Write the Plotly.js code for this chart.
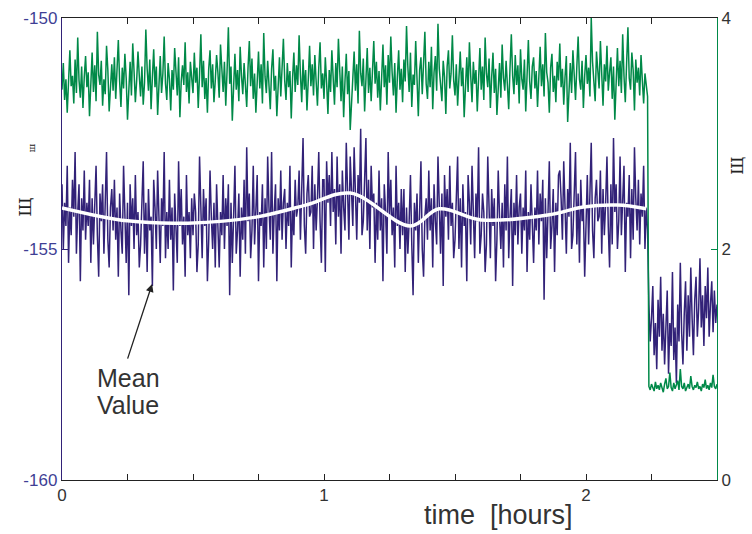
<!DOCTYPE html>
<html>
<head>
<meta charset="utf-8">
<script src="https://cdn.plot.ly/plotly-3.0.1.min.js"></script>
<style>html,body{margin:0;padding:0;background:#fff;}#chart{width:752px;height:534px;}</style>
</head>
<body>
<div id="chart"></div>
<script>
// sampling grid (hours)
const sampleStep = 0.005;

// signal level, left axis
const levelValues = [
 -153.6,-155.0,-154.0,-154.5,-153.2,-155.3,-154.1,-154.7,-153.5,-154.3,-152.9,-155.1,-154.2,-153.6,-155.7,-153.9,-154.6,-153.3,-154.8,-154.0,
 -154.5,-153.5,-155.3,-153.9,-154.9,-154.2,-153.2,-154.7,-155.6,-153.8,-154.4,-153.6,-155.1,-154.0,-152.9,-154.8,-155.4,-154.1,-153.7,-154.6,
 -153.5,-154.8,-154.1,-155.6,-153.8,-154.6,-155.1,-153.2,-154.3,-155.3,-154.0,-156.0,-153.6,-154.5,-153.9,-155.0,-153.4,-154.7,-154.2,-155.4,
 -154.9,-154.2,-153.1,-155.1,-154.0,-155.5,-153.7,-154.6,-154.3,-155.8,-153.5,-154.1,-155.0,-153.3,-154.7,-155.3,-153.9,-154.5,-152.9,-155.2,
 -154.2,-155.0,-153.5,-154.8,-154.1,-155.9,-153.8,-154.4,-155.3,-153.1,-154.5,-153.7,-154.9,-154.3,-155.6,-153.4,-154.7,-154.2,-155.2,-153.9,
 -154.7,-153.8,-154.2,-155.5,-154.9,-153.0,-154.1,-155.2,-153.7,-154.5,-153.9,-155.7,-154.8,-153.3,-154.3,-155.0,-154.0,-155.4,-153.6,-154.6,
 -155.4,-154.2,-154.7,-153.4,-155.0,-153.9,-154.5,-153.6,-156.0,-154.0,-155.3,-154.3,-153.2,-155.1,-154.6,-153.8,-155.6,-154.1,-154.8,-153.5,
 -155.1,-152.8,-154.4,-153.8,-155.2,-154.6,-153.2,-154.9,-154.0,-153.4,-155.7,-154.2,-154.5,-153.6,-155.4,-153.9,-155.0,-153.0,-154.1,-154.8,
 -152.9,-155.1,-154.2,-153.6,-155.7,-153.9,-154.6,-153.3,-154.8,-154.0,-153.7,-155.0,-154.0,-154.5,-153.2,-155.4,-154.1,-154.7,-153.5,-154.3,
 -154.1,-153.3,-154.8,-153.7,-152.6,-154.5,-155.1,-153.8,-153.4,-154.3,-154.2,-153.2,-155.0,-153.6,-154.6,-153.9,-152.9,-154.4,-155.3,-153.5,
 -153.5,-155.5,-153.1,-154.0,-153.4,-154.5,-152.9,-154.2,-153.7,-154.9,-153.0,-154.3,-153.6,-155.1,-153.3,-154.1,-154.6,-152.7,-153.8,-154.8,
 -153.0,-153.6,-154.5,-152.8,-154.2,-154.8,-153.4,-154.0,-152.4,-154.7,-154.4,-153.7,-152.6,-154.6,-153.5,-155.0,-153.2,-154.1,-153.8,-155.3,
 -154.0,-154.8,-153.3,-154.6,-153.9,-155.7,-153.6,-154.2,-155.1,-152.9,-154.3,-153.5,-154.7,-154.1,-155.4,-153.2,-154.5,-154.0,-155.0,-153.7,
 -154.7,-153.7,-155.5,-154.1,-155.1,-154.4,-153.4,-154.9,-156.0,-154.0,-154.6,-153.8,-155.3,-154.2,-153.1,-155.0,-155.6,-154.3,-153.9,-154.8,
 -153.3,-154.6,-153.9,-155.4,-153.6,-154.4,-154.9,-153.0,-154.1,-155.1,-153.8,-155.8,-153.4,-154.3,-153.7,-154.8,-153.2,-154.5,-154.0,-155.2,
 -154.8,-154.1,-153.0,-155.0,-153.9,-155.4,-153.6,-154.5,-154.2,-155.7,-153.4,-154.0,-154.9,-153.2,-154.6,-155.2,-153.8,-154.4,-152.8,-155.1,
 -154.7,-153.8,-154.2,-155.5,-154.9,-153.0,-154.1,-155.2,-153.7,-154.5,-153.9,-155.7,-154.8,-153.3,-154.3,-155.0,-154.0,-155.4,-153.6,-154.6,
 -153.0,-155.2,-154.3,-153.7,-155.8,-154.0,-154.7,-153.4,-154.9,-154.1,-153.8,-155.1,-154.1,-154.6,-153.3,-155.5,-154.2,-154.8,-153.6,-154.4,
 -155.3,-154.1,-154.6,-153.3,-154.9,-153.8,-154.4,-153.5,-156.1,-153.9,-155.2,-154.2,-153.1,-155.0,-154.5,-153.7,-155.5,-154.0,-154.7,-153.4,
 -153.3,-153.9,-154.8,-153.1,-154.5,-155.1,-153.7,-154.3,-152.7,-155.0,-154.7,-154.0,-152.9,-154.9,-153.8,-155.3,-153.5,-154.4,-154.1,-155.6,
 -154.2,-153.4,-154.9,-153.8,-152.7,-154.6,-155.2,-153.9,-153.5,-154.4,-154.3,-153.3,-155.1,-153.7,-154.7,-154.0,-153.0,-154.5,-155.4,-153.6,
 -154.9,-152.6,-154.2,-153.6,-155.0,-154.4,-153.0,-154.7,-153.8,-153.2,-155.5,-154.0,-154.3,-153.4,-155.2,-153.7,-154.8,-152.8,-153.9,-154.6,
 -153.5,-154.9,-153.8,-154.3,-153.2,-155.0,-154.1,-154.6,
 -156.2,-157.0,-156.5,-155.8,-157.3,-156.6,-157.6,-156.1,-156.9,-155.6,-157.2,-156.4,-157.5,-156.8,-155.9,-157.7,-156.6,-157.1,-155.5,-157.4,
 -156.7,-157.9,-156.2,-157.0,-155.3,-156.8,-157.5,-156.4,-155.7,-157.2,-156.0,-156.9,-155.4,-156.5,-157.3,-156.1,-155.6,-156.9,-156.3,-155.2,
 -156.7,-156.0,-157.1,-155.8,-156.5,-155.4,-156.9,-156.2,-155.7,-156.8,-155.9,-156.6,-156.2
];

// second quantity, right axis
const secondValues = [
 3.38,3.61,3.29,3.47,3.18,3.55,3.72,3.41,3.50,3.26,3.64,3.35,3.83,3.46,3.31,3.58,3.22,3.49,3.67,3.40,
 3.53,3.15,3.44,3.70,3.36,3.59,3.28,3.88,3.51,3.42,3.63,3.24,3.47,3.34,3.76,3.55,3.19,3.43,3.60,3.37,
 3.66,3.30,3.52,3.81,3.45,3.23,3.57,3.39,3.69,3.48,3.12,3.41,3.62,3.33,3.78,3.54,3.27,3.46,3.71,3.50,
 3.32,3.58,3.25,3.44,3.90,3.56,3.37,3.64,3.21,3.49,3.73,3.40,3.58,3.16,3.45,3.67,3.35,3.52,3.84,3.43,
 3.29,3.61,3.47,3.20,3.55,3.38,3.74,3.50,3.33,3.66,3.14,3.45,3.59,3.42,3.79,3.36,3.53,3.26,3.62,3.48,
 3.35,3.70,3.44,3.57,3.22,3.51,3.86,3.40,3.63,3.30,3.48,3.18,3.56,3.72,3.39,3.60,3.27,3.46,3.68,3.53,
 3.31,3.77,3.49,3.36,3.62,3.24,3.54,3.92,3.43,3.58,3.11,3.46,3.69,3.38,3.55,3.28,3.75,3.50,3.34,3.61,
 3.45,3.23,3.57,3.80,3.41,3.65,3.30,3.52,3.18,3.47,3.71,3.39,3.60,3.26,3.87,3.49,3.35,3.63,3.44,3.21,
 3.56,3.73,3.37,3.50,3.15,3.43,3.66,3.32,3.58,3.82,3.46,3.29,3.61,3.40,3.54,3.13,3.48,3.70,3.36,3.59,
 3.42,3.85,3.51,3.27,3.64,3.38,3.55,3.20,3.47,3.76,3.41,3.60,3.33,3.68,3.45,3.24,3.57,3.79,3.39,3.52,
 3.30,3.66,3.44,3.17,3.55,3.36,3.72,3.48,3.25,3.61,3.40,3.82,3.51,3.28,3.58,3.14,3.45,3.69,3.34,3.54,
 3.03,3.22,3.48,3.71,3.37,3.60,3.26,3.89,3.52,3.41,3.65,3.19,3.46,3.74,3.35,3.57,3.28,3.50,3.80,3.43,
 3.62,3.31,3.54,3.20,3.47,3.77,3.40,3.59,3.25,3.68,3.44,3.84,3.53,3.33,3.61,3.18,3.49,3.72,3.38,3.56,
 3.27,3.64,3.45,3.93,3.58,3.36,3.70,3.23,3.51,3.42,3.80,3.47,3.15,3.55,3.66,3.34,3.59,3.88,3.43,3.30,
 3.62,3.40,3.75,3.21,3.53,3.67,3.37,3.95,3.56,3.44,3.28,3.63,3.49,3.17,3.58,3.72,3.39,3.52,3.85,3.46,
 3.33,3.60,3.24,3.48,3.71,3.41,3.57,3.14,3.45,3.66,3.36,3.79,3.50,3.27,3.62,3.43,3.55,3.19,3.47,3.74,
 3.38,3.58,3.29,3.83,3.52,3.40,3.65,3.22,3.49,3.70,3.35,3.56,3.16,3.46,3.61,3.31,3.77,3.48,3.37,3.63,
 3.44,3.21,3.57,3.86,3.50,3.34,3.68,3.42,3.59,3.26,3.73,3.47,3.38,3.64,3.19,3.52,3.81,3.45,3.30,3.58,
 3.66,3.39,3.54,3.23,3.48,3.75,3.41,3.60,3.32,3.87,3.53,3.44,3.18,3.57,3.69,3.36,3.50,3.27,3.62,3.46,
 3.78,3.40,3.56,3.25,3.49,3.67,3.10,3.44,3.61,3.35,3.72,3.51,3.29,3.58,3.84,3.47,3.38,3.63,3.22,3.50,
 3.68,3.43,3.57,3.32,4.00,3.62,3.46,3.28,3.71,3.52,3.39,3.80,3.55,3.24,3.60,3.45,3.76,3.37,3.53,3.66,
 3.30,3.58,3.12,3.47,3.74,3.41,3.63,3.35,3.86,3.50,3.27,3.61,3.92,3.48,3.38,3.70,3.55,3.20,3.64,3.44,
 3.57,3.33,3.68,3.46,3.26,3.52,3.40,3.32,
 0.81,0.78,0.83,0.80,0.77,0.85,0.79,0.82,0.78,0.84,0.80,0.76,0.83,0.88,0.79,0.81,0.93,0.80,0.77,0.84,
 0.79,0.82,0.86,0.78,0.96,0.81,0.79,0.84,0.77,0.80,0.83,0.79,0.90,0.81,0.78,0.82,0.80,0.85,0.79,0.81,
 0.77,0.83,0.80,0.87,0.79,0.82,0.78,0.84,0.80,0.91,0.81,0.79,0.83
];

// smoothed mean value of the level
const meanTimes  = [0, 0.25, 0.48, 0.74, 0.93, 1.10, 1.33, 1.44, 1.60, 1.86, 1.99, 2.12, 2.23];
const meanValues = [-154.11, -154.39, -154.44, -154.31, -154.05, -153.79, -154.50, -154.13, -154.37, -154.26, -154.09, -154.05, -154.13];

const xTickVals  = [0, 0.25, 0.5, 0.75, 1, 1.25, 1.5, 1.75, 2, 2.25, 2.5];
const xTickText  = ['0', '', '', '', '1', '', '', '', '2', '', ''];
const yTickVals  = [-160, -155, -150];
const yTickText  = ['-160', '-155', '-150'];
const y2TickVals = [0, 2, 4];

const levelTimes  = levelValues.map((_, i) => +(i * sampleStep).toFixed(3));
const secondTimes = secondValues.map((_, i) => +(i * sampleStep).toFixed(3));

const purple = 'rgb(50,34,120)';
const green = 'rgb(0,137,72)';

const traces = [
  {x: levelTimes, y: levelValues, type: 'scatter', mode: 'lines', line: {color: purple, width: 1.5}, yaxis: 'y'},
  {x: secondTimes, y: secondValues, type: 'scatter', mode: 'lines', line: {color: green, width: 1.5}, yaxis: 'y2'},
  {x: meanTimes, y: meanValues, type: 'scatter', mode: 'lines', line: {color: '#ffffff', width: 3.5, shape: 'spline', smoothing: 1}, yaxis: 'y'}
];

const fam = 'Liberation Sans, Arial, sans-serif';

const layout = {
  width: 752, height: 534,
  margin: {l: 62, r: 35, t: 18, b: 54},
  paper_bgcolor: '#ffffff', plot_bgcolor: '#ffffff',
  showlegend: false,
  font: {family: fam},
  xaxis: {
    range: [0, 2.5], tickvals: xTickVals, ticktext: xTickText,
    ticks: 'inside', ticklen: 6, tickcolor: '#222', tickwidth: 1,
    showline: true, linecolor: '#222', linewidth: 1, mirror: 'ticks',
    showgrid: false, zeroline: false,
    tickfont: {size: 17, color: '#333', family: fam}
  },
  yaxis: {
    range: [-160, -150], tickvals: yTickVals, ticktext: yTickText,
    ticks: 'inside', ticklen: 6, tickcolor: purple,
    showline: true, linecolor: purple, linewidth: 1.2,
    showgrid: false, zeroline: false,
    tickfont: {size: 17, color: '#3f3f95', family: fam}
  },
  yaxis2: {
    range: [0, 4], tickvals: y2TickVals, overlaying: 'y', side: 'right',
    ticks: 'inside', ticklen: 6, tickcolor: green,
    showline: true, linecolor: green, linewidth: 1.2,
    showgrid: false, zeroline: false,
    tickfont: {size: 17, color: '#333', family: fam}
  },
  annotations: [
    {xref: 'paper', yref: 'paper', x: 0.667, y: -0.0768, xanchor: 'center', yanchor: 'middle',
     text: 'time  [hours]', showarrow: false, font: {size: 27, color: '#333', family: fam}},
    {xref: 'x', yref: 'y', x: 0.344, y: -155.76, ax: -25, ay: 76, text: '',
     showarrow: true, arrowhead: 2, arrowsize: 1.2, arrowwidth: 1.3, arrowcolor: '#222'},
    {xref: 'x', yref: 'y', x: 0.252, y: -157.8, xanchor: 'center', yanchor: 'middle',
     text: 'Mean', showarrow: false, font: {size: 25, color: '#333', family: fam}},
    {xref: 'x', yref: 'y', x: 0.252, y: -158.38, xanchor: 'center', yanchor: 'middle',
     text: 'Value', showarrow: false, font: {size: 25, color: '#333', family: fam}},
    {xref: 'paper', yref: 'paper', x: -0.056, y: 0.59, xanchor: 'center', yanchor: 'middle',
     text: 'Щ', textangle: -90, showarrow: false, font: {size: 17, color: '#222', family: 'DejaVu Serif'}},
    {xref: 'paper', yref: 'paper', x: -0.046, y: 0.72, xanchor: 'center', yanchor: 'middle',
     text: 'ш', textangle: -90, showarrow: false, font: {size: 9, color: '#222', family: 'DejaVu Serif'}},
    {xref: 'paper', yref: 'paper', x: 1.032, y: 0.68, xanchor: 'center', yanchor: 'middle',
     text: 'Щ', textangle: -90, showarrow: false, font: {size: 16, color: '#222', family: 'DejaVu Serif'}}
  ]
};

Plotly.newPlot('chart', traces, layout, {displayModeBar: false, staticPlot: true});
</script>
</body>
</html>
